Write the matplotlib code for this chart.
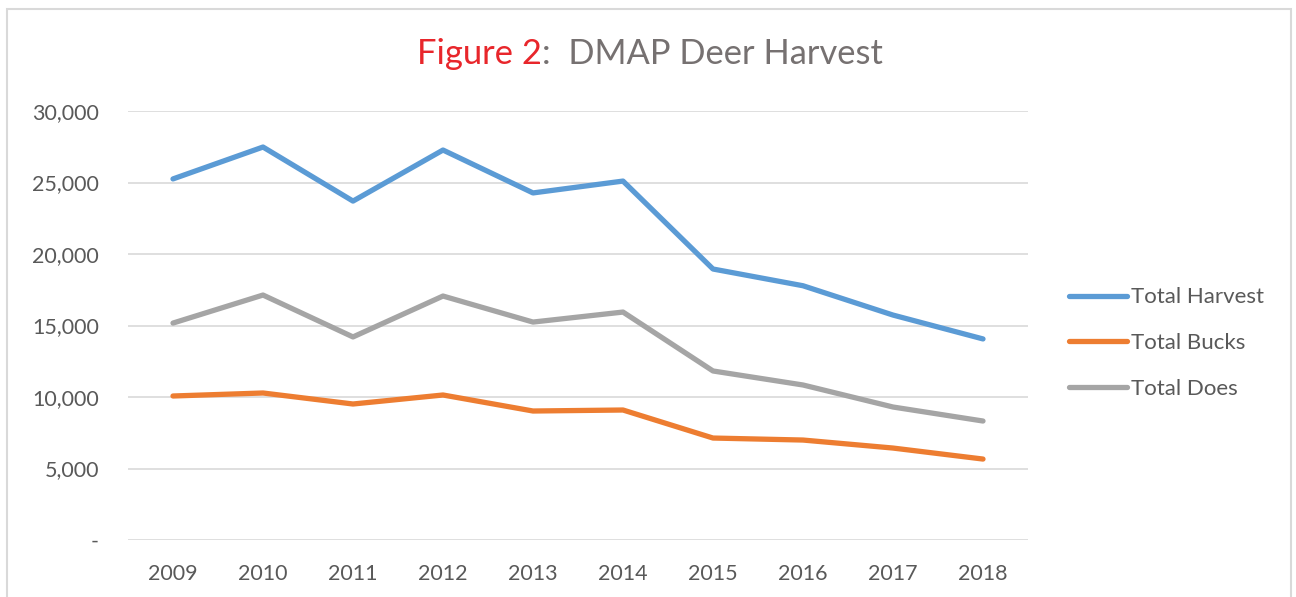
import matplotlib
matplotlib.use('Agg')
import matplotlib.pyplot as plt
from matplotlib.ticker import FuncFormatter
from matplotlib.patches import Rectangle

plt.rcParams['font.family'] = ['Lato', 'DejaVu Sans']

years = [2009, 2010, 2011, 2012, 2013, 2014, 2015, 2016, 2017, 2018]
total_harvest = [25250, 27480, 23700, 27270, 24270, 25100, 18950, 17780, 15730, 14060]
total_bucks = [10070, 10280, 9510, 10140, 9020, 9090, 7130, 6990, 6430, 5660]
total_does = [15170, 17130, 14200, 17060, 15240, 15940, 11820, 10840, 9300, 8320]

series_names = ['Total Harvest', 'Total Bucks', 'Total Does']
series_colors = ['#5B9BD5', '#ED7D31', '#A5A5A5']
text_grey = '#595959'

fig = plt.figure(figsize=(12.96, 5.97), dpi=100)

# chart border (open at the bottom, cut off like the reference)
fig.patches.append(Rectangle((7 / 1296, -0.05), 1284 / 1296, 1 - 9 / 597 + 0.05,
                             transform=fig.transFigure, fill=False,
                             edgecolor='#D9D9D9', lw=1.5))

ax = fig.add_axes([128 / 1296, 1 - 540 / 597, 900 / 1296, 429 / 597])

x = list(range(len(years)))
for vals, name, col in zip([total_harvest, total_bucks, total_does], series_names, series_colors):
    ax.plot(x, vals, color=col, lw=3.8, label=name, solid_capstyle='round',
            solid_joinstyle='round', zorder=3)

ax.set_xlim(-0.5, len(years) - 0.5)
ax.set_ylim(0, 30000)
ax.set_yticks(range(0, 30001, 5000))
ax.yaxis.set_major_formatter(FuncFormatter(lambda v, p: '-' if v == 0 else f'{int(v):,}'))
ax.set_xticks(x)
ax.set_xticklabels([str(y) for y in years])

ax.grid(axis='y', color='#D9D9D9', lw=1.2, zorder=0)
for s in ax.spines.values():
    s.set_visible(False)
ax.tick_params(length=0, labelsize=15.5, colors=text_grey)
ax.tick_params(axis='y', pad=21)
ax.tick_params(axis='x', pad=17)

# title: red "Figure 2" followed by grey text
t1 = fig.text(417 / 1296, 1 - 54 / 597, 'Figure 2', color='#E8262B', fontsize=24.8,
              va='center', ha='left')
fig.canvas.draw()
bb = t1.get_window_extent()
fig.text(bb.x1 / fig.bbox.width, 1 - 54 / 597, ':  DMAP Deer Harvest', color='#767171',
         fontsize=24.8, va='center', ha='left')

leg = ax.legend(loc='center left', bbox_to_anchor=(1049 / 1296, 1 - 343 / 597),
                bbox_transform=fig.transFigure, frameon=False, fontsize=16,
                handlelength=2.6, handletextpad=0.2, labelspacing=1.15,
                labelcolor=text_grey)

fig.savefig('out.png', dpi=100)
